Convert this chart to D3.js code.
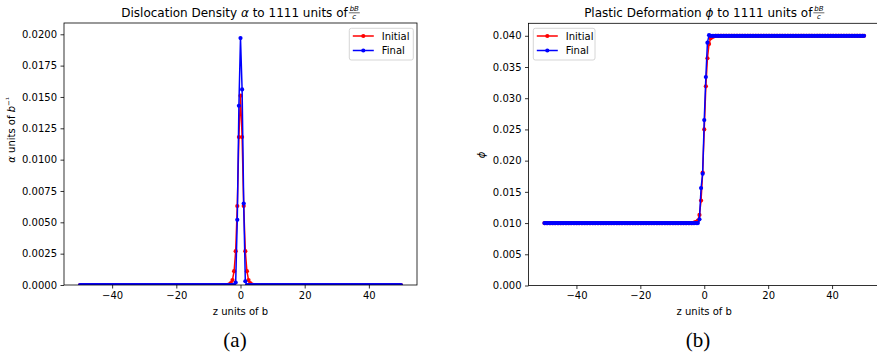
<!DOCTYPE html>
<html>
<head>
<meta charset="utf-8">
<script src="https://cdn.jsdelivr.net/npm/d3@7"></script>
<style>
  body { margin: 0; background: #fff; }
  svg { display: block; font-family: "DejaVu Sans", sans-serif; }
</style>
</head>
<body>
<div id="chart"></div>
<script>
// z grid (units of b), step 0.5
const zUnits = [
  -50,-49.5,-49,-48.5,-48,-47.5,-47,-46.5,-46,-45.5,
  -45,-44.5,-44,-43.5,-43,-42.5,-42,-41.5,-41,-40.5,
  -40,-39.5,-39,-38.5,-38,-37.5,-37,-36.5,-36,-35.5,
  -35,-34.5,-34,-33.5,-33,-32.5,-32,-31.5,-31,-30.5,
  -30,-29.5,-29,-28.5,-28,-27.5,-27,-26.5,-26,-25.5,
  -25,-24.5,-24,-23.5,-23,-22.5,-22,-21.5,-21,-20.5,
  -20,-19.5,-19,-18.5,-18,-17.5,-17,-16.5,-16,-15.5,
  -15,-14.5,-14,-13.5,-13,-12.5,-12,-11.5,-11,-10.5,
  -10,-9.5,-9,-8.5,-8,-7.5,-7,-6.5,-6,-5.5,
  -5,-4.5,-4,-3.5,-3,-2.5,-2,-1.5,-1,-0.5,
  0,0.5,1,1.5,2,2.5,3,3.5,4,4.5,
  5,5.5,6,6.5,7,7.5,8,8.5,9,9.5,
  10,10.5,11,11.5,12,12.5,13,13.5,14,14.5,
  15,15.5,16,16.5,17,17.5,18,18.5,19,19.5,
  20,20.5,21,21.5,22,22.5,23,23.5,24,24.5,
  25,25.5,26,26.5,27,27.5,28,28.5,29,29.5,
  30,30.5,31,31.5,32,32.5,33,33.5,34,34.5,
  35,35.5,36,36.5,37,37.5,38,38.5,39,39.5,
  40,40.5,41,41.5,42,42.5,43,43.5,44,44.5,
  45,45.5,46,46.5,47,47.5,48,48.5,49,49.5,
  50
];

// dislocation density alpha (units of 1/b)
const alphaInitial = [
  0,0,0,0,0,0,0,0,0,0, 0,0,0,0,0,0,0,0,0,0, 0,0,0,0,0,0,0,0,0,0,
  0,0,0,0,0,0,0,0,0,0, 0,0,0,0,0,0,0,0,0,0, 0,0,0,0,0,0,0,0,0,0,
  0,0,0,0,0,0,0,0,0,0, 0,0,0,0,0,0,0,0,0,0, 0,0,0,0,0,0,0,0,0,0,
  0,0,0,
  0.00005,0.00015,0.0004,0.0011,0.0027,0.0063,0.0118,0.0151,0.0118,0.0063,0.0027,0.0011,0.0004,0.00015,0.00005,
  0,0,0,
  0,0,0,0,0,0,0,0,0,0, 0,0,0,0,0,0,0,0,0,0, 0,0,0,0,0,0,0,0,0,0,
  0,0,0,0,0,0,0,0,0,0, 0,0,0,0,0,0,0,0,0,0, 0,0,0,0,0,0,0,0,0,0,
  0,0,0,0,0,0,0,0,0,0, 0,0,0,0,0,0,0,0,0,0, 0,0,0,0,0,0,0,0,0,0
];
const alphaFinal = [
  0,0,0,0,0,0,0,0,0,0, 0,0,0,0,0,0,0,0,0,0, 0,0,0,0,0,0,0,0,0,0,
  0,0,0,0,0,0,0,0,0,0, 0,0,0,0,0,0,0,0,0,0, 0,0,0,0,0,0,0,0,0,0,
  0,0,0,0,0,0,0,0,0,0, 0,0,0,0,0,0,0,0,0,0, 0,0,0,0,0,0,0,0,0,0,
  0,0,0,0,0,0,0,
  0.0002,0.0052,0.0143,0.0197,0.0156,0.0065,0.0003,
  0,0,0,0,0,0,0,
  0,0,0,0,0,0,0,0,0,0, 0,0,0,0,0,0,0,0,0,0, 0,0,0,0,0,0,0,0,0,0,
  0,0,0,0,0,0,0,0,0,0, 0,0,0,0,0,0,0,0,0,0, 0,0,0,0,0,0,0,0,0,0,
  0,0,0,0,0,0,0,0,0,0, 0,0,0,0,0,0,0,0,0,0, 0,0,0,0,0,0,0,0,0,0
];

// plastic deformation phi
const phiInitial = [
  0.01,0.01,0.01,0.01,0.01,0.01,0.01,0.01,0.01,0.01, 0.01,0.01,0.01,0.01,0.01,0.01,0.01,0.01,0.01,0.01,
  0.01,0.01,0.01,0.01,0.01,0.01,0.01,0.01,0.01,0.01, 0.01,0.01,0.01,0.01,0.01,0.01,0.01,0.01,0.01,0.01,
  0.01,0.01,0.01,0.01,0.01,0.01,0.01,0.01,0.01,0.01, 0.01,0.01,0.01,0.01,0.01,0.01,0.01,0.01,0.01,0.01,
  0.01,0.01,0.01,0.01,0.01,0.01,0.01,0.01,0.01,0.01, 0.01,0.01,0.01,0.01,0.01,0.01,0.01,0.01,0.01,0.01,
  0.01,0.01,0.01,0.01,0.01,0.01,0.01,0.01,0.01,0.01,
  0.01,0.01,0.01,0.01,
  0.0101,0.0102,0.0104,0.0113,0.0136,0.0181,0.0250,0.0319,0.0364,0.0387,0.0396,0.0398,0.0399,
  0.04,0.04,0.04,0.04,
  0.04,0.04,0.04,0.04,0.04,0.04,0.04,0.04,0.04,0.04, 0.04,0.04,0.04,0.04,0.04,0.04,0.04,0.04,0.04,0.04,
  0.04,0.04,0.04,0.04,0.04,0.04,0.04,0.04,0.04,0.04, 0.04,0.04,0.04,0.04,0.04,0.04,0.04,0.04,0.04,0.04,
  0.04,0.04,0.04,0.04,0.04,0.04,0.04,0.04,0.04,0.04, 0.04,0.04,0.04,0.04,0.04,0.04,0.04,0.04,0.04,0.04,
  0.04,0.04,0.04,0.04,0.04,0.04,0.04,0.04,0.04,0.04, 0.04,0.04,0.04,0.04,0.04,0.04,0.04,0.04,0.04,0.04,
  0.04,0.04,0.04,0.04,0.04,0.04,0.04,0.04,0.04,0.04
];
const phiFinal = [
  0.01,0.01,0.01,0.01,0.01,0.01,0.01,0.01,0.01,0.01, 0.01,0.01,0.01,0.01,0.01,0.01,0.01,0.01,0.01,0.01,
  0.01,0.01,0.01,0.01,0.01,0.01,0.01,0.01,0.01,0.01, 0.01,0.01,0.01,0.01,0.01,0.01,0.01,0.01,0.01,0.01,
  0.01,0.01,0.01,0.01,0.01,0.01,0.01,0.01,0.01,0.01, 0.01,0.01,0.01,0.01,0.01,0.01,0.01,0.01,0.01,0.01,
  0.01,0.01,0.01,0.01,0.01,0.01,0.01,0.01,0.01,0.01, 0.01,0.01,0.01,0.01,0.01,0.01,0.01,0.01,0.01,0.01,
  0.01,0.01,0.01,0.01,0.01,0.01,0.01,0.01,0.01,0.01,
  0.01,0.01,0.01,0.01,0.01,0.01,0.01,
  0.0106,0.0156,0.0179,0.0265,0.0334,0.0389,0.0401,
  0.04,0.04,0.04,0.04,0.04,0.04,0.04,
  0.04,0.04,0.04,0.04,0.04,0.04,0.04,0.04,0.04,0.04, 0.04,0.04,0.04,0.04,0.04,0.04,0.04,0.04,0.04,0.04,
  0.04,0.04,0.04,0.04,0.04,0.04,0.04,0.04,0.04,0.04, 0.04,0.04,0.04,0.04,0.04,0.04,0.04,0.04,0.04,0.04,
  0.04,0.04,0.04,0.04,0.04,0.04,0.04,0.04,0.04,0.04, 0.04,0.04,0.04,0.04,0.04,0.04,0.04,0.04,0.04,0.04,
  0.04,0.04,0.04,0.04,0.04,0.04,0.04,0.04,0.04,0.04, 0.04,0.04,0.04,0.04,0.04,0.04,0.04,0.04,0.04,0.04,
  0.04,0.04,0.04,0.04,0.04,0.04,0.04,0.04,0.04,0.04
];

const zTicks = [-40, -20, 0, 20, 40];
const alphaTicks = [0, 0.0025, 0.005, 0.0075, 0.01, 0.0125, 0.015, 0.0175, 0.02];
const phiTicks = [0, 0.005, 0.01, 0.015, 0.02, 0.025, 0.03, 0.035, 0.04];
const seriesNames = ["Initial", "Final"];
const seriesColors = ["#ff0000", "#0000ff"];

const W = 877, H = 362;
const svg = d3.select("#chart").append("svg")
  .attr("width", W)
  .attr("height", H);

function drawPanel(opts) {
  const x = d3.scaleLinear().domain([-55, 55]).range([opts.left, opts.right]);
  const y = d3.scaleLinear().domain(opts.yDomain).range([opts.bottom, opts.top]);
  const g = svg.append("g");

  const clipId = "clip-" + opts.id;
  g.append("clipPath").attr("id", clipId)
    .append("rect")
    .attr("x", opts.left).attr("y", opts.top)
    .attr("width", opts.right - opts.left).attr("height", opts.bottom - opts.top);

  // series
  const line = d3.line().x(d => x(d[0])).y(d => y(d[1]));
  const plot = g.append("g").attr("clip-path", `url(#${clipId})`);
  opts.series.forEach((vals, i) => {
    const pts = zUnits.map((z, k) => [z, vals[k]]);
    plot.append("path")
      .datum(pts)
      .attr("d", line)
      .attr("fill", "none")
      .attr("stroke", seriesColors[i])
      .attr("stroke-width", 1.5)
      .attr("stroke-linejoin", "round");
    plot.selectAll(null)
      .data(pts)
      .join("circle")
      .attr("cx", d => x(d[0]))
      .attr("cy", d => y(d[1]))
      .attr("r", 2.1)
      .attr("fill", seriesColors[i]);
  });

  // frame
  g.append("rect")
    .attr("x", opts.left).attr("y", opts.top)
    .attr("width", opts.right - opts.left).attr("height", opts.bottom - opts.top)
    .attr("fill", "none").attr("stroke", "#000").attr("stroke-width", 0.8);

  // axes
  const xAxis = g.append("g")
    .attr("transform", `translate(0,${opts.bottom})`)
    .call(d3.axisBottom(x).tickValues(zTicks).tickSize(3.5).tickPadding(3)
      .tickFormat(d => d < 0 ? "\u2212" + Math.abs(d) : String(d)));
  const yAxis = g.append("g")
    .attr("transform", `translate(${opts.left},0)`)
    .call(d3.axisLeft(y).tickValues(opts.yTicks).tickSize(3.5).tickPadding(3.5)
      .tickFormat(d3.format(opts.yFormat)));
  [xAxis, yAxis].forEach(a => {
    a.select(".domain").remove();
    a.selectAll("line").attr("stroke", "#000").attr("stroke-width", 0.8);
    a.selectAll("text").attr("fill", "#000")
      .style("font-family", "DejaVu Sans").style("font-size", "10px");
  });

  const cx = x(0);
  g.append("text")
    .attr("x", cx).attr("y", 315)
    .attr("text-anchor", "middle")
    .style("font-size", "10px")
    .text("z units of b");

  // y label
  const yl = g.append("text")
    .attr("transform", `translate(${opts.yLabelX},${opts.yLabelY}) rotate(-90)`)
    .attr("text-anchor", "middle")
    .style("font-size", "10px");
  opts.yLabel(yl);

  // title with small fraction bB/c
  const title = g.append("text")
    .attr("y", 17)
    .style("font-size", "12px");
  title.append("tspan").text(opts.titleA);
  title.append("tspan").style("font-style", "italic").text(opts.sym);
  title.append("tspan").text(" to 1111 units of ");
  const tw = title.node().getComputedTextLength();
  const fw = 11;
  const tx = cx - (tw + fw + 1) / 2;
  title.attr("x", tx);
  const fx = tx + tw + 1 + fw / 2;
  g.append("text").attr("x", fx).attr("y", 11)
    .attr("text-anchor", "middle").style("font-size", "7px").style("font-style", "italic")
    .text("bB");
  g.append("line").attr("x1", fx - fw / 2).attr("x2", fx + fw / 2)
    .attr("y1", 12.8).attr("y2", 12.8).attr("stroke", "#000").attr("stroke-width", 0.6);
  g.append("text").attr("x", fx).attr("y", 18.5)
    .attr("text-anchor", "middle").style("font-size", "7px").style("font-style", "italic")
    .text("c");

  // legend
  const lg = g.append("g");
  lg.append("rect")
    .attr("x", opts.legX).attr("y", 28.3)
    .attr("width", opts.legW).attr("height", 31.7)
    .attr("rx", 2).attr("fill", "#fff").attr("fill-opacity", 0.8)
    .attr("stroke", "#cccccc").attr("stroke-width", 0.8);
  seriesNames.forEach((name, i) => {
    const ly = 36 + i * 14.5;
    const lx0 = opts.legX + 3.5, lx1 = lx0 + 21;
    lg.append("line").attr("x1", lx0).attr("x2", lx1).attr("y1", ly).attr("y2", ly)
      .attr("stroke", seriesColors[i]).attr("stroke-width", 1.5);
    lg.append("circle").attr("cx", (lx0 + lx1) / 2).attr("cy", ly).attr("r", 2.1)
      .attr("fill", seriesColors[i]);
    lg.append("text").attr("x", lx1 + 8).attr("y", ly + 3.6)
      .style("font-size", "10px").text(name);
  });

  // caption
  g.append("text")
    .attr("x", opts.capX).attr("y", 347)
    .attr("text-anchor", "middle")
    .style("font-family", "'Liberation Serif', 'DejaVu Serif', serif")
    .style("font-size", "21px")
    .text(opts.caption);
}

drawPanel({
  id: "a", left: 64, right: 417, top: 23, bottom: 285,
  yDomain: [0, 0.0209], yTicks: alphaTicks, yFormat: ".4f",
  series: [alphaInitial, alphaFinal],
  titleA: "Dislocation Density ", sym: "\u03b1",
  yLabelX: 15, yLabelY: 130,
  yLabel: t => {
    t.append("tspan").style("font-style", "italic").text("\u03b1");
    t.append("tspan").text(" units of ");
    t.append("tspan").style("font-style", "italic").text("b");
    t.append("tspan").attr("dy", -4).style("font-size", "7px").text("\u2212\u00b9");
  },
  legX: 349.3, legW: 64,
  capX: 235, caption: "(a)"
});

drawPanel({
  id: "b", left: 528.5, right: 880, top: 23.3, bottom: 285.5,
  yDomain: [0, 0.042], yTicks: phiTicks, yFormat: ".3f",
  series: [phiInitial, phiFinal],
  titleA: "Plastic Deformation ", sym: "\u03d5",
  yLabelX: 485, yLabelY: 155,
  yLabel: t => {
    t.append("tspan").style("font-style", "italic").text("\u03d5");
  },
  legX: 533.3, legW: 61.7,
  capX: 698, caption: "(b)"
});
</script>
</body>
</html>
